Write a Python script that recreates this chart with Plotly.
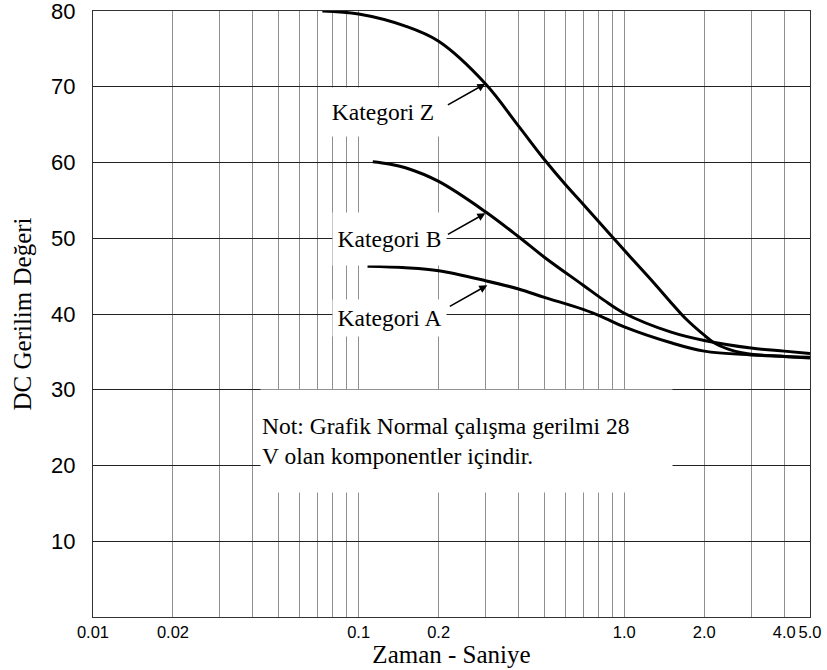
import numpy as np
import plotly.graph_objects as go

# ---- data ----
z_x = [0.073, 0.1, 0.15, 0.2, 0.3, 0.4, 0.5, 0.6, 0.7, 0.8, 0.9, 1.0, 1.3, 1.5, 1.7, 2.0, 2.2, 2.6, 3.0, 4.0, 5.0]
z_y = [80.0, 79.6, 78.0, 76.0, 70.4, 64.8, 60.4, 57.1, 54.5, 52.2, 50.2, 48.4, 44.0, 41.5, 39.4, 37.2, 36.1, 35.1, 34.7, 34.4, 34.3]

b_x = [0.113, 0.13, 0.15, 0.2, 0.3, 0.4, 0.5, 0.7, 0.84, 1.0, 1.5, 2.0, 3.0, 4.0, 5.0]
b_y = [60.1, 59.8, 59.3, 57.5, 53.5, 50.2, 47.5, 43.8, 41.8, 40.1, 37.6, 36.5, 35.5, 35.1, 34.8]

a_x = [0.108, 0.15, 0.2, 0.3, 0.4, 0.5, 0.7, 0.84, 1.0, 1.5, 2.0, 3.0, 4.0, 5.0]
a_y = [46.3, 46.1, 45.7, 44.4, 43.3, 42.2, 40.6, 39.5, 38.3, 36.2, 35.1, 34.6, 34.4, 34.2]

x_grid = [0.01, 0.02, 0.03, 0.04, 0.05, 0.06, 0.07, 0.08, 0.09,
          0.1, 0.2, 0.3, 0.4, 0.5, 0.6, 0.7, 0.8, 0.9,
          1.0, 2.0, 3.0, 4.0, 5.0]
x_labels = {0.01: "0.01", 0.02: "0.02", 0.1: "0.1", 0.2: "0.2",
            1.0: "1.0", 2.0: "2.0", 4.0: "4.0", 5.0: "5.0"}
y_ticks = [10, 20, 30, 40, 50, 60, 70, 80]

labels = ["Kategori Z", "Kategori B", "Kategori A"]
arrow_tips = [(0.3, 70.4), (0.3, 53.3), (0.305, 43.8)]
note_text = "Not: Grafik Normal çalışma gerilmi 28<br>V olan komponentler içindir."

# ---- layout geometry ----
W, H = 827, 670
L, R, T, B = 93, 17, 11, 53
PW, PH = W - L - R, H - T - B

def px(x, y):
    return (x - L) / PW, (H - B - y) / PH

serif = "Liberation Serif, Times New Roman, serif"
line = dict(color="black", width=3, shape="spline", smoothing=1.0)

fig = go.Figure()
for xs, ys, nm in [(z_x, z_y, labels[0]), (b_x, b_y, labels[1]), (a_x, a_y, labels[2])]:
    fig.add_trace(go.Scatter(x=xs, y=ys, mode="lines", line=line, name=nm, showlegend=False))

ann = []
# label boxes (white background hides grid)
label_boxes = [(383, 112, 126, 48), (389, 239, 113, 52), (389, 318, 113, 36)]
for txt, (cx, cy, w, h) in zip(labels, label_boxes):
    xp, yp = px(cx, cy)
    ann.append(dict(x=xp, y=yp, xref="paper", yref="paper", text=txt, showarrow=False,
                    width=w, height=h, bgcolor="white", borderpad=0,
                    font=dict(family=serif, size=23.5, color="black"),
                    xanchor="center", yanchor="middle"))
# arrows
for (tx, ty) in arrow_tips:
    ann.append(dict(x=np.log10(tx), y=ty, xref="x", yref="y", text="", showarrow=True,
                    ax=-39, ay=22, arrowhead=2, arrowsize=1, arrowwidth=1.6,
                    arrowcolor="black", standoff=0))
# note box
xp, yp = px(466, 441)
ann.append(dict(x=xp, y=yp, xref="paper", yref="paper", text=note_text, showarrow=False,
                width=409, height=100, bgcolor="white", align="left",
                font=dict(family=serif, size=23.5, color="black"),
                xanchor="center", yanchor="middle"))

fig.update_layout(
    width=W, height=H,
    margin=dict(l=L, r=R, t=T, b=B, autoexpand=False),
    plot_bgcolor="white", paper_bgcolor="white",
    annotations=ann,
    xaxis=dict(type="log", range=[np.log10(0.01), np.log10(5.0)],
               tickvals=x_grid, ticktext=[x_labels.get(v, "") for v in x_grid],
               tickangle=0, automargin=False, ticklabeloverflow="allow",
               showgrid=True, gridcolor="#8f8f8f", gridwidth=1.4,
               showline=True, linecolor="#333", linewidth=1.4, mirror=True,
               ticks="", ticklen=0,
               tickfont=dict(family="Liberation Sans, Arial", size=16.5, color="black"),
               title=dict(text="Zaman - Saniye", font=dict(family=serif, size=25, color="black"), standoff=4),
               zeroline=False),
    yaxis=dict(range=[0, 80], tickvals=y_ticks, automargin=False,
               ticklabeloverflow="allow",
               showgrid=True, gridcolor="#222", gridwidth=1,
               showline=True, linecolor="#333", linewidth=1.4, mirror=True,
               ticks="", ticklen=0, ticklabelstandoff=12,
               tickfont=dict(family="Liberation Sans, Arial", size=22, color="black"),
               title=dict(text="DC Gerilim Değeri", font=dict(family=serif, size=25, color="black"), standoff=12),
               zeroline=False),
)

fig.write_html("out.html")
